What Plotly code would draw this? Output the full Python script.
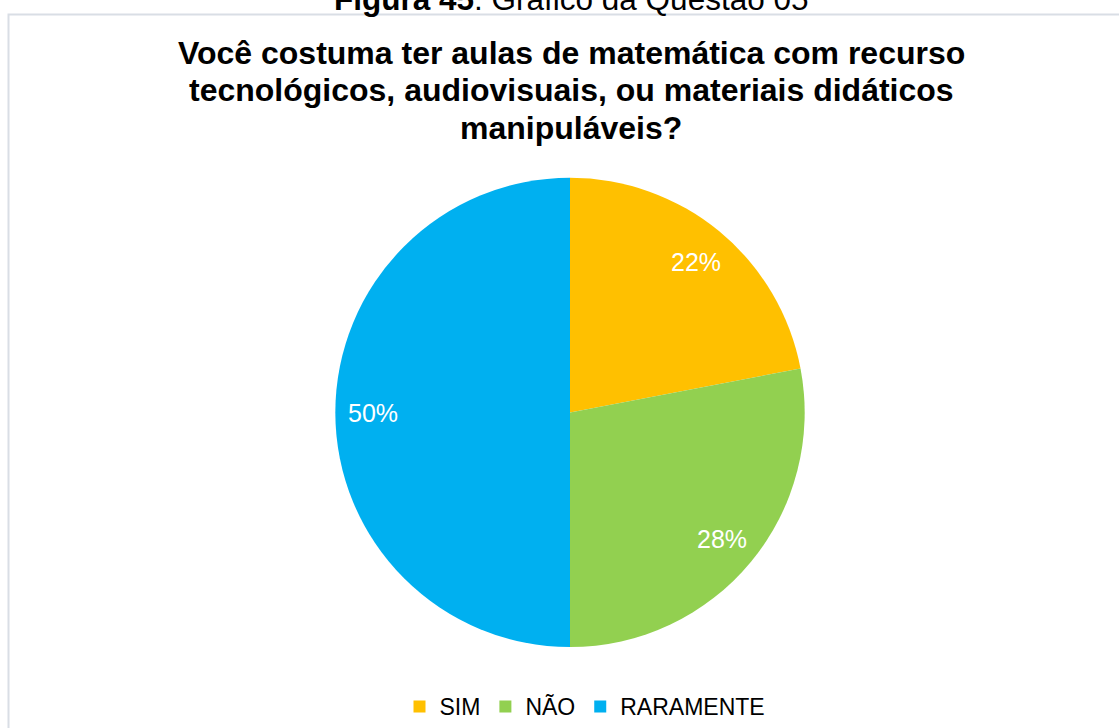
import math
import plotly.graph_objects as go

W, H = 1119, 728

categories = ["SIM", "NÃO", "RARAMENTE"]
values = [22, 28, 50]
colors = ["#FFC000", "#92D050", "#00B0F0"]
title_lines = [
    "Você costuma ter aulas de matemática com recurso",
    "tecnológicos, audiovisuais, ou materiais didáticos",
    "manipuláveis?",
]
caption = "<b>Figura 45</b>: Gráfico da Questão 05"

FONT = "Arial, Liberation Sans, sans-serif"

# pie geometry (pixels)
cx, cy, R = 570, 413, 235

fig = go.Figure()
fig.add_trace(go.Pie(
    labels=categories,
    values=values,
    marker=dict(colors=colors, line=dict(width=0)),
    sort=False,
    direction="clockwise",
    rotation=0,
    textinfo="none",
    hoverinfo="label+percent",
    domain=dict(x=[(cx - R) / W, (cx + R) / W],
                y=[(H - cy - R) / H, (H - cy + R) / H]),
))

annotations = []
# data labels computed from values
total = sum(values)
cum = 0
for v in values:
    mid = (cum + v / 2) / total * 2 * math.pi
    cum += v
    rr = 0.84 * R
    px = cx + rr * math.sin(mid)
    py = cy - rr * math.cos(mid) + 1
    annotations.append(dict(
        x=px / W, y=1 - py / H, xref="paper", yref="paper",
        text=f"{round(v / total * 100)}%", showarrow=False,
        font=dict(family=FONT, size=25, color="white"),
        xanchor="center", yanchor="middle",
    ))

# title lines
for i, line in enumerate(title_lines):
    annotations.append(dict(
        x=571 / W, y=1 - (53 + i * 37.5) / H, xref="paper", yref="paper",
        text=f"<b>{line}</b>", showarrow=False,
        font=dict(family=FONT, size=32, color="black"),
        xanchor="center", yanchor="middle",
    ))

# caption (partly cut off at the top)
annotations.append(dict(
    x=571 / W, y=1 - 19 / H, xref="paper", yref="paper",
    text=caption, showarrow=False,
    font=dict(family=FONT, size=31.5, color="black"),
    xanchor="center", yanchor="bottom",
))

fig.update_layout(
    width=W, height=H,
    margin=dict(l=0, r=0, t=0, b=0),
    paper_bgcolor="white",
    plot_bgcolor="white",
    showlegend=True,
    legend=dict(
        orientation="h",
        x=585 / W, xanchor="center",
        y=(H - 707) / H, yanchor="middle",
        font=dict(family=FONT, size=23, color="black"),
        itemwidth=30,
    ),
    annotations=annotations,
    shapes=[dict(
        type="rect", xref="paper", yref="paper",
        x0=8.5 / W, x1=1.2, y0=-0.2, y1=1 - 14.5 / H,
        line=dict(color="#d9dee5", width=2),
        fillcolor="rgba(0,0,0,0)", layer="below",
    )],
)

fig.write_html("out.html")
